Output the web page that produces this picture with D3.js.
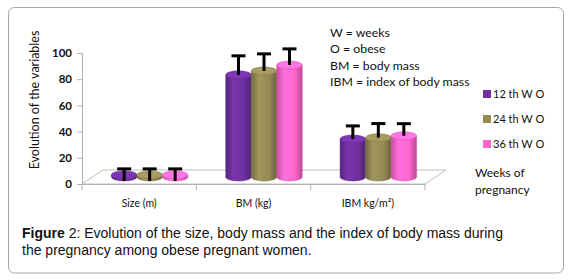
<!DOCTYPE html>
<html>
<head>
<meta charset="utf-8">
<script src="https://cdn.jsdelivr.net/npm/d3@7"></script>
<style>
  body { margin: 0; background: #fff; }
  svg { display: block; }
  .lbl { font-family: Lato, "Open Sans", sans-serif; fill: #111; }
  .cap { font-family: "Liberation Sans", Arial, sans-serif; font-size: 14px; fill: #111; }
</style>
</head>
<body>
<svg id="chart" width="572" height="280"></svg>
<script>
const categories = ["Size (m)", "BM (kg)", "IBM kg/m²)"];
const seriesNames = ["12 th W O", "24 th W O", "36 th W O"];
const seriesColors = ["#7030A0", "#948A54", "#FF66CC"];
const values12 = [1.6, 78, 29];
const values24 = [1.6, 81, 30];
const values36 = [1.6, 85.5, 31.5];
const errors12 = [4.6, 14.5, 10];
const errors24 = [4.6, 13, 10.8];
const errors36 = [4.6, 12.3, 9.2];
const yTicks = [0, 20, 40, 60, 80, 100];
const notes = ["W = weeks", "O = obese", "BM = body mass", "IBM = index of body mass"];

const series = [
    { name: seriesNames[0], color: seriesColors[0], values: values12, errors: errors12 },
    { name: seriesNames[1], color: seriesColors[1], values: values24, errors: errors24 },
    { name: seriesNames[2], color: seriesColors[2], values: values36, errors: errors36 }
];

const svg = d3.select("#chart");

// outer frame
svg.append("rect")
    .attr("x", 8.5).attr("y", 7.5)
    .attr("width", 555).attr("height", 265.5)
    .attr("rx", 6)
    .attr("fill", "#fff")
    .attr("stroke", "#a6a6a6");

const plotLeft = 82, plotRight = 425;
const depthX = 21, depthY = -14;

const x = d3.scaleBand().domain(categories).range([plotLeft, plotRight]);
const y = d3.scaleLinear().domain([0, 100]).range([184, 53]);

// floor
const floorPts = [[plotLeft, y(0)], [plotRight, y(0)], [plotRight + depthX, y(0) + depthY], [plotLeft + depthX, y(0) + depthY]];
svg.append("path")
    .attr("d", d3.line()(floorPts) + "Z")
    .attr("fill", "#fff")
    .attr("stroke", "#c0c0c0");

// value axis
const yAxis = svg.append("g")
    .attr("transform", `translate(${plotLeft}, 0)`)
    .call(d3.axisLeft(y).tickValues(yTicks).tickSize(5).tickPadding(5));
yAxis.select(".domain").attr("stroke", "#b0b0b0");
yAxis.selectAll(".tick line").attr("stroke", "#b0b0b0");
yAxis.selectAll(".tick text")
    .attr("class", "lbl")
    .style("font-size", "11.5px")
    .style("font-weight", "bold")
    .attr("fill", "#1a1a2a");

// category axis
const xAxis = svg.append("g")
    .attr("transform", `translate(0, ${y(0)})`)
    .call(d3.axisBottom(x).tickSize(0).tickPadding(16));
xAxis.select(".domain").attr("stroke", "#b0b0b0");
xAxis.selectAll(".tick text")
    .attr("class", "lbl")
    .style("font-size", "10.5px");
svg.append("g")
    .selectAll("line")
    .data(categories.map(function (c) { return x(c); }).concat([plotRight]))
    .join("line")
    .attr("x1", function (d) { return d; })
    .attr("x2", function (d) { return d; })
    .attr("y1", y(0))
    .attr("y2", y(0) + 6)
    .attr("stroke", "#b0b0b0");

// gradients
const defs = svg.append("defs");
series.forEach(function (s, i) {
    const c = d3.color(s.color);
    const g = defs.append("linearGradient")
        .attr("id", "grad" + i)
        .attr("x1", 0).attr("x2", 1).attr("y1", 0).attr("y2", 0);
    g.append("stop").attr("offset", "0%").attr("stop-color", c.darker(0.7));
    g.append("stop").attr("offset", "30%").attr("stop-color", c.brighter(0.25));
    g.append("stop").attr("offset", "70%").attr("stop-color", c);
    g.append("stop").attr("offset", "100%").attr("stop-color", c.darker(0.9));
});

// bars, placed at middle depth of the floor
const barW = 25.5, ry = 4;
const yBar = function (v) { return y(v) + depthY / 2; };
const xInner = d3.scaleBand().domain(d3.range(series.length)).range([-barW * 1.5, barW * 1.5]);

categories.forEach(function (cat, ci) {
    const cx0 = x(cat) + x.bandwidth() / 2 + depthX / 2;
    series.forEach(function (s, si) {
        const v = s.values[ci];
        const err = s.errors[ci];
        const xl = cx0 + xInner(si);
        const xr = xl + barW;
        const xc = xl + barW / 2;
        const yt = yBar(v), yb = yBar(0);
        const rx = barW / 2;

        svg.append("path")
            .attr("d", `M${xl},${yt} L${xl},${yb} A${rx},${ry} 0 0 0 ${xr},${yb} L${xr},${yt} Z`)
            .attr("fill", `url(#grad${si})`)
            .attr("stroke", d3.color(s.color).darker(0.6))
            .attr("stroke-width", 0.5);
        svg.append("ellipse")
            .attr("cx", xc).attr("cy", yt)
            .attr("rx", rx).attr("ry", ry)
            .attr("fill", d3.color(s.color).brighter(0.35))
            .attr("stroke", d3.color(s.color).darker(0.5))
            .attr("stroke-width", 0.5);

        // error bar
        const yTop = yBar(v + err);
        const yLow = v - err < 0 ? yBar(v - err) : yt;
        svg.append("line")
            .attr("x1", xc).attr("x2", xc)
            .attr("y1", yTop).attr("y2", yLow)
            .attr("stroke", "#000").attr("stroke-width", 3);
        svg.append("line")
            .attr("x1", xc - 7).attr("x2", xc + 7)
            .attr("y1", yTop).attr("y2", yTop)
            .attr("stroke", "#000").attr("stroke-width", 3);
    });
});

// y axis title
svg.append("text")
    .attr("class", "lbl")
    .attr("transform", `translate(39, 100) rotate(-90)`)
    .attr("text-anchor", "middle")
    .style("font-size", "12.5px")
    .text("Evolution of the variables");

// notes
svg.append("g")
    .selectAll("text")
    .data(notes)
    .join("text")
    .attr("class", "lbl")
    .attr("x", 330)
    .attr("y", function (d, i) { return 37 + i * 16.3; })
    .style("font-size", "12.3px")
    .text(function (d) { return d; });

// legend
const legend = svg.append("g")
    .selectAll("g")
    .data(series)
    .join("g")
    .attr("transform", function (d, i) { return `translate(483, ${90 + i * 25})`; });
legend.append("rect")
    .attr("width", 8).attr("height", 8)
    .attr("fill", function (d) { return d.color; });
legend.append("text")
    .attr("class", "lbl")
    .attr("x", 10).attr("y", 8)
    .style("font-size", "11px")
    .text(function (d) { return d.name; });

svg.append("text").attr("class", "lbl")
    .attr("x", 475).attr("y", 177)
    .style("font-size", "12px")
    .text("Weeks of");
svg.append("text").attr("class", "lbl")
    .attr("x", 475).attr("y", 194)
    .style("font-size", "12px")
    .text("pregnancy");

// caption
const cap1 = svg.append("text").attr("class", "cap").attr("x", 22).attr("y", 238);
cap1.append("tspan").style("font-weight", "bold").text("Figure");
cap1.append("tspan").text(" 2: Evolution of the size, body mass and the index of body mass during");
svg.append("text").attr("class", "cap").attr("x", 22).attr("y", 255)
    .text("the pregnancy among obese pregnant women.");
</script>
</body>
</html>
